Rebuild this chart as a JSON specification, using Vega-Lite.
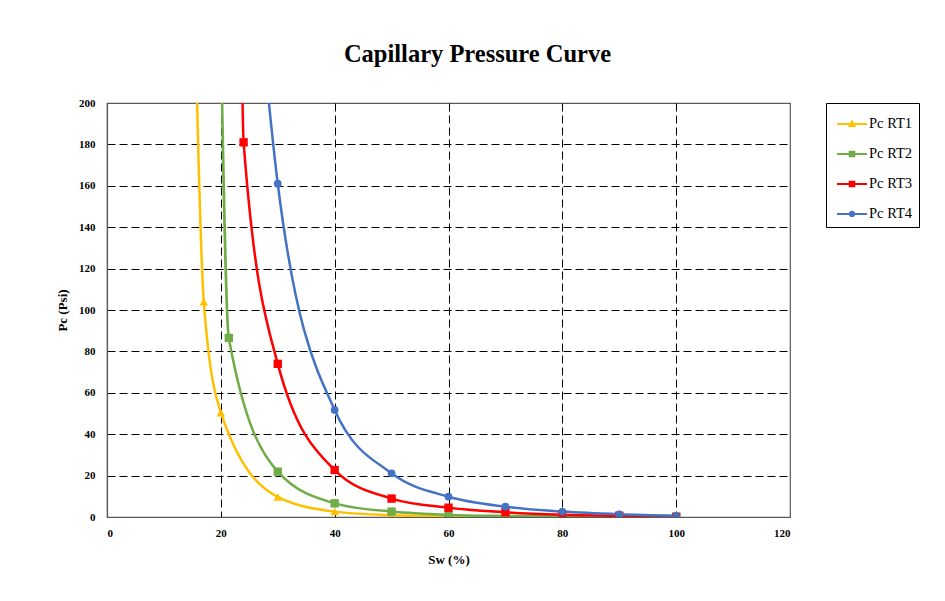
{
  "$schema": "https://vega.github.io/schema/vega-lite/v6.json",
  "width": 683,
  "height": 414,
  "autosize": "none",
  "padding": {"left": 107, "top": 103, "right": 155, "bottom": 84},
  "background": "white",
  "title": {"text": "Capillary Pressure Curve", "font": "Liberation Serif", "fontSize": 24.5, "fontWeight": "bold", "color": "black", "offset": 30, "dx": 29},
  "config": {
    "view": {"stroke": "#595959", "strokeWidth": 1.2},
    "axis": {
      "labelFont": "Liberation Serif", "labelFontWeight": "bold", "labelFontSize": 11, "labelColor": "black",
      "titleFont": "Liberation Serif", "titleFontWeight": "bold", "titleFontSize": 13, "titleColor": "black",
      "ticks": false, "domainColor": "#595959", "domainWidth": 1.2,
      "gridColor": "black", "gridDash": [8, 4], "gridWidth": 1
    }
  },
  "data": {"values": [
    {"series": "Pc RT1", "sw": 15, "pc": 300},
    {"series": "Pc RT1", "sw": 17, "pc": 104},
    {"series": "Pc RT1", "sw": 20, "pc": 50.4},
    {"series": "Pc RT1", "sw": 30, "pc": 9.7},
    {"series": "Pc RT1", "sw": 40, "pc": 2.6},
    {"series": "Pc RT1", "sw": 50, "pc": 0.9},
    {"series": "Pc RT1", "sw": 60, "pc": 0.4},
    {"series": "Pc RT1", "sw": 70, "pc": 0.2},
    {"series": "Pc RT1", "sw": 80, "pc": 0.1},
    {"series": "Pc RT1", "sw": 90, "pc": 0.05},
    {"series": "Pc RT1", "sw": 100, "pc": 0.02},
    {"series": "Pc RT2", "sw": 19.5, "pc": 320},
    {"series": "Pc RT2", "sw": 21.4, "pc": 86.5},
    {"series": "Pc RT2", "sw": 30, "pc": 21.9},
    {"series": "Pc RT2", "sw": 40, "pc": 6.6},
    {"series": "Pc RT2", "sw": 50, "pc": 2.6},
    {"series": "Pc RT2", "sw": 60, "pc": 1.0},
    {"series": "Pc RT2", "sw": 70, "pc": 0.5},
    {"series": "Pc RT2", "sw": 80, "pc": 0.3},
    {"series": "Pc RT2", "sw": 90, "pc": 0.15},
    {"series": "Pc RT2", "sw": 100, "pc": 0.05},
    {"series": "Pc RT3", "sw": 23.5, "pc": 260},
    {"series": "Pc RT3", "sw": 24, "pc": 181},
    {"series": "Pc RT3", "sw": 30, "pc": 74},
    {"series": "Pc RT3", "sw": 40, "pc": 22.7},
    {"series": "Pc RT3", "sw": 50, "pc": 8.9},
    {"series": "Pc RT3", "sw": 60, "pc": 4.5},
    {"series": "Pc RT3", "sw": 70, "pc": 2.3},
    {"series": "Pc RT3", "sw": 80, "pc": 1.1},
    {"series": "Pc RT3", "sw": 90, "pc": 0.6},
    {"series": "Pc RT3", "sw": 100, "pc": 0.1},
    {"series": "Pc RT4", "sw": 27.2, "pc": 235},
    {"series": "Pc RT4", "sw": 30, "pc": 161},
    {"series": "Pc RT4", "sw": 40, "pc": 51.7},
    {"series": "Pc RT4", "sw": 50, "pc": 21.1},
    {"series": "Pc RT4", "sw": 60, "pc": 9.8},
    {"series": "Pc RT4", "sw": 70, "pc": 5.0},
    {"series": "Pc RT4", "sw": 80, "pc": 2.6},
    {"series": "Pc RT4", "sw": 90, "pc": 1.3},
    {"series": "Pc RT4", "sw": 100, "pc": 0.6}
  ]},
  "encoding": {
    "x": {"field": "sw", "type": "quantitative", "scale": {"domain": [0, 120], "nice": false},
      "axis": {"title": "Sw (%)", "values": [0, 20, 40, 60, 80, 100, 120], "labelPadding": 10, "titlePadding": 15,
        "gridOpacity": {"condition": {"test": "datum.value === 0 || datum.value === 120", "value": 0}, "value": 1}}},
    "y": {"field": "pc", "type": "quantitative", "scale": {"domain": [0, 200], "nice": false},
      "axis": {"title": "Pc (Psi)", "values": [0, 20, 40, 60, 80, 100, 120, 140, 160, 180, 200], "labelPadding": 12, "titlePadding": 9,
        "gridOpacity": {"condition": {"test": "datum.value === 0 || datum.value === 200", "value": 0}, "value": 1}}},
    "color": {"field": "series", "type": "nominal",
      "scale": {"domain": ["Pc RT1", "Pc RT2", "Pc RT3", "Pc RT4"], "range": ["#FFC000", "#70AD47", "#FF0000", "#4472C4"]},
      "legend": {"title": null, "orient": "right", "offset": 36, "padding": 6, "rowPadding": 8, "symbolSize": 900, "symbolOffset": 5,
        "labelOffset": 2, "labelFont": "Liberation Serif", "labelFontSize": 14.5, "labelColor": "black",
        "strokeColor": "black", "fillColor": "white", "symbolStrokeWidth": 0, "symbolOpacity": 1}}
  },
  "layer": [
    {"mark": {"type": "line", "interpolate": "monotone", "clip": true, "strokeWidth": 2.5}},
    {"transform": [{"filter": "datum.series === 'Pc RT1'"}],
      "mark": {"type": "point", "shape": "triangle-up", "filled": true, "opacity": 1, "clip": true, "size": 75}},
    {"transform": [{"filter": "datum.series === 'Pc RT2' || datum.series === 'Pc RT3'"}],
      "mark": {"type": "point", "shape": "square", "filled": true, "opacity": 1, "clip": true, "size": 70}},
    {"transform": [{"filter": "datum.series === 'Pc RT4'"}],
      "mark": {"type": "point", "shape": "circle", "filled": true, "opacity": 1, "clip": true, "size": 60}},
    {"transform": [{"filter": "datum.sw > 1000"}],
      "mark": {"type": "point", "filled": true, "opacity": 1, "clip": true, "size": 900},
      "encoding": {"shape": {"field": "series", "type": "nominal",
        "scale": {"domain": ["Pc RT1", "Pc RT2", "Pc RT3", "Pc RT4"],
          "range": ["M-1,-0.07H1V0.07H-1Z M0,-0.3L0.28,0.2H-0.28Z", "M-1,-0.07H1V0.07H-1Z M-0.22,-0.22H0.22V0.22H-0.22Z", "M-1,-0.07H1V0.07H-1Z M-0.22,-0.22H0.22V0.22H-0.22Z", "M-1,-0.07H1V0.07H-1Z M0.22,0A0.22,0.22 0 1,1 -0.22,0A0.22,0.22 0 1,1 0.22,0Z"]}}}}
  ]
}
